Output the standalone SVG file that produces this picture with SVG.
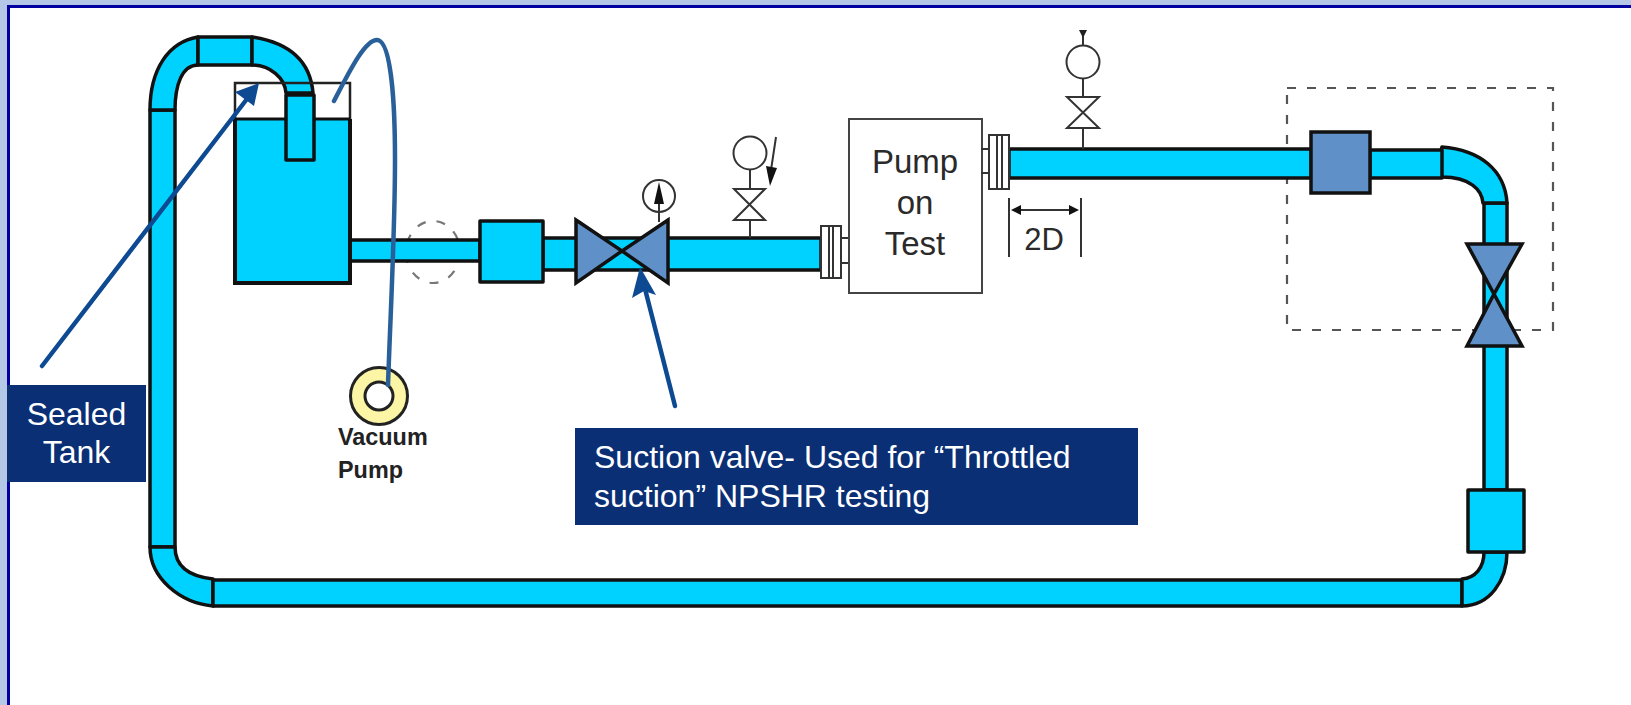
<svg xmlns="http://www.w3.org/2000/svg" width="1631" height="705" viewBox="0 0 1631 705">
<style>
.p{fill:#00d2ff;stroke:#111;stroke-width:3.5;stroke-linejoin:round}
.b{fill:#5f90c8;stroke:#111;stroke-width:3.5;stroke-linejoin:miter}
.t{fill:#fff;stroke:#333;stroke-width:2}
.l{fill:none;stroke:#333;stroke-width:2}
.dash{fill:none;stroke:#555;stroke-width:2.200;stroke-dasharray:9 11}
.lab{fill:#0a2f75}
.w{font-family:"Liberation Sans",Arial,sans-serif;font-size:32px;fill:#fff}
.k{font-family:"Liberation Sans",Arial,sans-serif;fill:#2a2a2a}
.vp{font-family:"Liberation Sans",Arial,sans-serif;font-weight:bold;font-size:23.4px;fill:#222}
.call{fill:none;stroke:#0d4a92;stroke-width:4.500;stroke-linecap:round}
.head{fill:#0d4a92}
</style>
<rect width="1631" height="705" fill="#fff"/>
<g id="frame">
<rect x="0" y="0" width="1631" height="5" fill="#b4c7e7"/>
<rect x="0" y="0" width="7" height="705" fill="#b4c7e7"/>
<rect x="7" y="5" width="1624" height="3" fill="#0000a0"/>
<rect x="7" y="5" width="3" height="700" fill="#0000a0"/>
</g>
<g id="dashes">
<rect class="dash" x="1287" y="88" width="266" height="242"/>
<ellipse class="dash" cx="433" cy="252" rx="27" ry="31" style="stroke:#777"/>
</g>
<g id="pipes">
<rect class="p" x="150" y="110" width="25" height="437"/>
<path class="p" d="M150,110C150,70 168,42 198,37L198,65C182,65 175,85 175,110Z"/>
<rect class="p" x="198" y="37" width="54" height="28"/>
<path class="p" d="M252,37C285,42 310,58 313,93L286,93C285,78 270,65 252,65Z"/>
<path class="p" d="M150,547C150,578 180,603 213,606L213,579C195,577 175,570 175,547Z"/>
<rect class="p" x="213" y="580" width="1249" height="26"/>
<path class="p" d="M1462,579C1475,578 1484,568 1484,552L1507,552C1507,580 1490,606 1462,606Z"/>
<rect class="p" x="1484" y="203" width="23" height="287"/>
<path class="p" d="M1442,147C1480,150 1505,170 1507,203L1483,203C1482,190 1470,177 1442,177C1438,167 1438,157 1442,147Z"/>
<rect class="p" x="1009" y="149" width="302" height="29"/>
<rect class="p" x="1370" y="150" width="72" height="28"/>
<rect class="p" x="350" y="240" width="130" height="21"/>
<rect class="p" x="543" y="238" width="278" height="32"/>
</g>
<g id="sealed-tank">
<rect x="235" y="119" width="115" height="164" fill="#00d2ff"/>
<path d="M235,119V283H350V119" fill="none" stroke="#111" stroke-width="4"/>
<path d="M235,119V83H350V119" fill="none" stroke="#222" stroke-width="2.500"/>
<line x1="235" y1="119" x2="350" y2="119" stroke="#111" stroke-width="3"/>
<rect class="p" x="286" y="95" width="28" height="65"/>
</g>
<g id="box-inlet"><rect class="p" x="480" y="221" width="63" height="61"/></g>
<g id="suction-valve">
<path class="b" d="M576,220L622,251L576,283Z"/>
<path class="b" d="M668,220L622,251L668,283Z"/>
</g>
<g id="suction-gauge">
<circle class="l" cx="659" cy="196" r="16"/>
<line class="l" x1="659" y1="190" x2="659" y2="222"/>
<path fill="#111" d="M659,182L664,204L654,204Z"/>
</g>
<g id="inlet-gauge">
<line class="l" x1="750" y1="169" x2="750" y2="238"/>
<circle class="t" cx="750" cy="153" r="16.500"/>
<path class="t" d="M734,189H765L734,220H765Z"/>
<line class="l" x1="776" y1="137" x2="771" y2="170"/>
<path fill="#111" d="M766,166L777,168L770,186Z"/>
</g>
<g id="flange-inlet">
<rect class="t" x="821" y="226" width="20" height="52"/>
<line class="l" x1="829" y1="226" x2="829" y2="278"/>
<line class="l" x1="833" y1="226" x2="833" y2="278"/>
<line class="l" x1="841" y1="238" x2="849" y2="238"/>
<line class="l" x1="841" y1="263" x2="849" y2="263"/>
</g>
<g id="pump-on-test">
<rect x="849" y="119" width="133" height="174" fill="#fff" stroke="#444" stroke-width="2"/>
<text class="k" font-size="33" text-anchor="middle" x="915" y="173">Pump</text>
<text class="k" font-size="33" text-anchor="middle" x="915" y="214">on</text>
<text class="k" font-size="33" text-anchor="middle" x="915" y="255">Test</text>
</g>
<g id="flange-outlet">
<rect class="t" x="989" y="135" width="20" height="54"/>
<line class="l" x1="997" y1="135" x2="997" y2="189"/>
<line class="l" x1="1002" y1="135" x2="1002" y2="189"/>
<line class="l" x1="981" y1="149" x2="989" y2="149"/>
<line class="l" x1="981" y1="173" x2="989" y2="173"/>
</g>
<g id="outlet-gauge">
<line class="l" x1="1083" y1="36" x2="1083" y2="46"/>
<path fill="#222" d="M1079,30H1087L1083,38Z"/>
<line class="l" x1="1083" y1="78" x2="1083" y2="149"/>
<circle class="t" cx="1083" cy="62" r="16.500"/>
<path class="t" d="M1067,97H1099L1067,128H1099Z"/>
</g>
<g id="dim-2d">
<line class="l" x1="1009" y1="198" x2="1009" y2="257"/>
<line class="l" x1="1081" y1="198" x2="1081" y2="257"/>
<line class="l" x1="1015" y1="210" x2="1076" y2="210"/>
<path fill="#111" d="M1011,210L1021,205V215ZM1079,210L1069,205V215Z"/>
<text class="k" font-size="31" text-anchor="middle" x="1044" y="250">2D</text>
</g>
<g id="box-outlet"><rect class="b" x="1311" y="132" width="59" height="61"/></g>
<g id="discharge-valve">
<path class="b" d="M1467,244H1522L1494,294Z"/>
<path class="b" d="M1467,346H1522L1494,294Z"/>
</g>
<g id="box-return"><rect class="p" x="1468" y="490" width="56" height="62"/></g>
<g id="vacuum-pump">
<circle cx="379" cy="396" r="21" fill="none" stroke="#fbf5a5" stroke-width="15"/>
<circle cx="379" cy="396" r="28.500" fill="none" stroke="#222" stroke-width="3"/>
<circle cx="379" cy="396" r="14" fill="#fff" stroke="#222" stroke-width="3"/>
<text class="vp" x="338" y="445">Vacuum</text>
<text class="vp" x="338" y="478">Pump</text>
</g>
<g id="connectors">
<path d="M334,101C350,70 365,40 377,40C392,40 395,110 395,160C395,230 391,300 388,385" fill="none" stroke="#2a6099" stroke-width="4.500" stroke-linecap="round"/>
<line class="call" x1="42" y1="366" x2="250" y2="95"/>
<path class="head" d="M259,83L254,106L235,92Z"/>
<line class="call" x1="675" y1="406" x2="644" y2="285"/>
<path class="head" d="M640,267L656,295L644,291L632,298Z"/>
</g>
<g id="label-sealed-tank">
<rect class="lab" x="7" y="385" width="139" height="97"/>
<text class="w" text-anchor="middle" x="76.500" y="425">Sealed</text>
<text class="w" text-anchor="middle" x="76.500" y="463">Tank</text>
</g>
<g id="label-suction-valve">
<rect class="lab" x="575" y="428" width="563" height="97"/>
<text class="w" x="594" y="468">Suction valve- Used for “Throttled</text>
<text class="w" x="594" y="507">suction” NPSHR testing</text>
</g>
</svg>
